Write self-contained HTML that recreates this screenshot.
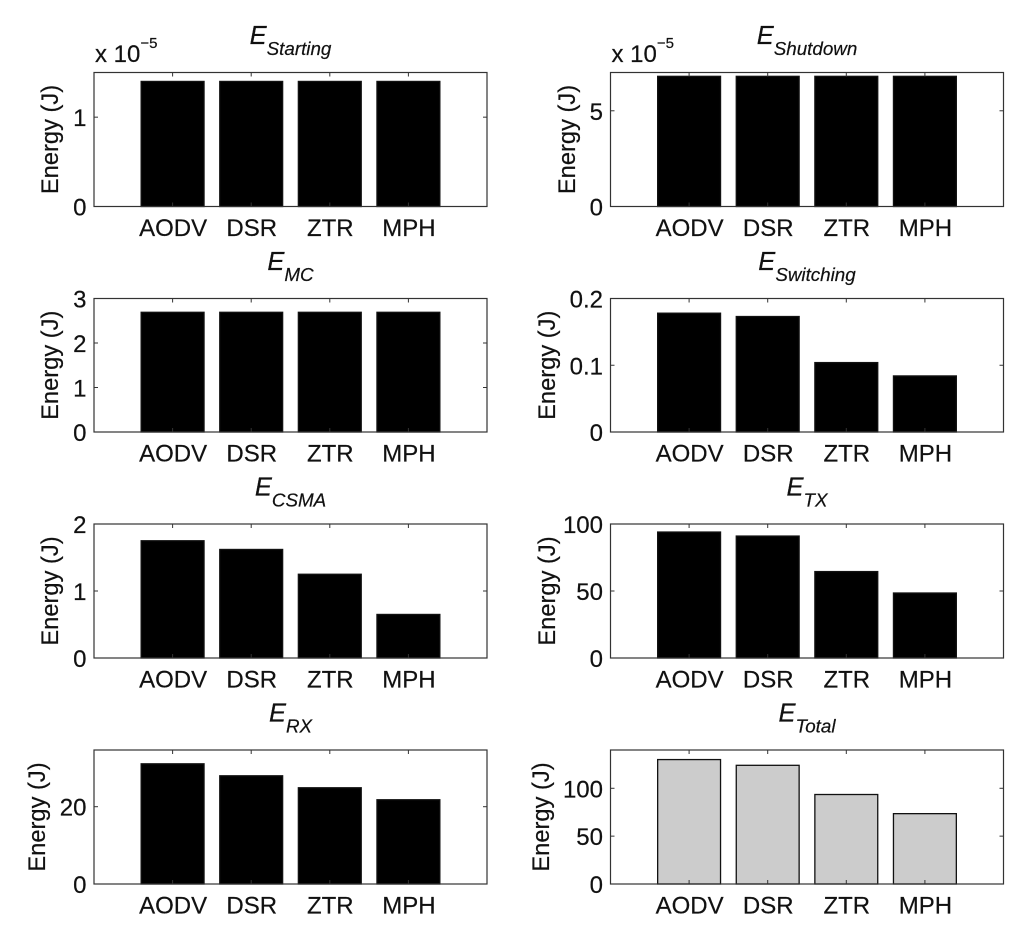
<!DOCTYPE html>
<html lang="en">
<head>
<meta charset="utf-8">
<title>Energy by routing protocol</title>
<style>
html,body{margin:0;padding:0;background:#fff;}
svg{display:block;filter:blur(0.35px);}
text{font-family:"Liberation Sans",sans-serif;fill:#111;stroke:#111;stroke-width:0.2px;}
</style>
</head>
<body>
<svg id="figure" xmlns="http://www.w3.org/2000/svg" width="1024" height="931" viewBox="0 0 1024 931"></svg>
<script>
const categories = ['AODV', 'DSR', 'ZTR', 'MPH'];

const startingValues = [1.4e-5, 1.4e-5, 1.4e-5, 1.4e-5];
const shutdownValues = [6.8e-5, 6.8e-5, 6.8e-5, 6.8e-5];
const mcValues = [2.69, 2.69, 2.69, 2.69];
const switchingValues = [0.178, 0.173, 0.104, 0.084];
const csmaValues = [1.75, 1.62, 1.25, 0.65];
const txValues = [94, 91, 64.5, 48.5];
const rxValues = [31.1, 28, 24.9, 21.8];
const totalValues = [130, 124, 93.5, 73.5];

const startingTicks = [0, 1e-5];
const startingTickLabels = ['0', '1'];
const shutdownTicks = [0, 5e-5];
const shutdownTickLabels = ['0', '5'];
const mcTicks = [0, 1, 2, 3];
const mcTickLabels = ['0', '1', '2', '3'];
const switchingTicks = [0, 0.1, 0.2];
const switchingTickLabels = ['0', '0.1', '0.2'];
const csmaTicks = [0, 1, 2];
const csmaTickLabels = ['0', '1', '2'];
const txTicks = [0, 50, 100];
const txTickLabels = ['0', '50', '100'];
const rxTicks = [0, 20];
const rxTickLabels = ['0', '20'];
const totalTicks = [0, 50, 100];
const totalTickLabels = ['0', '50', '100'];

const svg = document.getElementById('figure');
const NS = 'http://www.w3.org/2000/svg';

function make(tag, attrs, parent) {
  const el = document.createElementNS(NS, tag);
  for (const k in attrs) el.setAttribute(k, attrs[k]);
  parent.appendChild(el);
  return el;
}

function drawPanel(p) {
  const w = 393, h = p.bottom - p.top;
  const xScale = v => p.left + (v / 5) * w;
  const yScale = v => p.bottom - (v / p.yMax) * h;

  const g = make('g', {}, svg);
  
  

  // bars
  p.values.forEach((v, i) => {
    const x0 = xScale(i + 1 - 0.4), x1 = xScale(i + 1 + 0.4), y = yScale(v);
    const bar = make('rect', {x: x0, y: y, width: x1 - x0, height: p.bottom - y,
      fill: p.fill, stroke: '#111', 'stroke-width': 1.3}, g);
    
    
  });

  // axes box
  const box = make('rect', {x: p.left, y: p.top, width: w, height: h, fill: 'none',
    stroke: '#333', 'stroke-width': 1.2}, g);
  
  

  // x ticks & labels
  categories.forEach((c, i) => {
    const x = xScale(i + 1);
    make('line', {x1: x, x2: x, y1: p.top, y2: p.top + 4, stroke: '#333', 'stroke-width': 1}, g);
    make('line', {x1: x, x2: x, y1: p.bottom, y2: p.bottom - 4, stroke: '#333', 'stroke-width': 1}, g);
    const t = make('text', {x: x + 0.5, y: p.bottom + 29.5, 'text-anchor': 'middle', 'font-size': 24}, g);
    t.textContent = c;
    
    
  });

  // y ticks & labels
  p.ticks.forEach((v, i) => {
    const y = yScale(v);
    make('line', {x1: p.left, x2: p.left + 4, y1: y, y2: y, stroke: '#333', 'stroke-width': 1}, g);
    make('line', {x1: p.left + w, x2: p.left + w - 4, y1: y, y2: y, stroke: '#333', 'stroke-width': 1}, g);
    const t = make('text', {x: p.left - 7.5, y: y + 9, 'text-anchor': 'end', 'font-size': 24}, g);
    t.textContent = p.tickLabels[i];
    
    
  });

  // y-axis title
  const cy = (p.top + p.bottom) / 2;
  const yl = make('text', {x: 0, y: 0, 'text-anchor': 'middle', 'font-size': 23.7,
    transform: 'translate(' + p.yTitleX + ',' + cy + ') rotate(-90)'}, g);
  yl.textContent = 'Energy (J)';
  
  

  // title
  const title = make('text', {x: p.left + w / 2, y: p.top - 28.5, 'text-anchor': 'middle',
    'font-style': 'italic', 'font-size': 25.5}, g);
  
  
  const main = make('tspan', {}, title);
  main.textContent = 'E';
  const sub = make('tspan', {dy: 11, 'font-size': 18.8}, title);
  sub.textContent = p.subscript;

  // exponent
  if (p.exponent) {
    const ex = make('text', {x: p.left + 1, y: p.top - 10.5, 'font-size': 24}, g);
    
    
    const a = make('tspan', {}, ex);
    a.textContent = 'x 10';
    const b = make('tspan', {dy: -14, 'font-size': 15}, ex);
    b.textContent = p.exponent;
  }
}

const LEFT = 94, RIGHT = 610.5;

drawPanel({name: 'starting', left: LEFT, top: 72.5, bottom: 206.5, yMax: 1.5e-5, values: startingValues,
  ticks: startingTicks, tickLabels: startingTickLabels, subscript: 'Starting', fill: '#000', yTitleX: 58, exponent: '\u22125'});
drawPanel({name: 'shutdown', left: RIGHT, top: 72.5, bottom: 206.5, yMax: 7e-5, values: shutdownValues,
  ticks: shutdownTicks, tickLabels: shutdownTickLabels, subscript: 'Shutdown', fill: '#000', yTitleX: 575, exponent: '\u22125'});
drawPanel({name: 'mc', left: LEFT, top: 298.5, bottom: 432, yMax: 3, values: mcValues,
  ticks: mcTicks, tickLabels: mcTickLabels, subscript: 'MC', fill: '#000', yTitleX: 58});
drawPanel({name: 'switching', left: RIGHT, top: 298.5, bottom: 432, yMax: 0.2, values: switchingValues,
  ticks: switchingTicks, tickLabels: switchingTickLabels, subscript: 'Switching', fill: '#000', yTitleX: 555});
drawPanel({name: 'csma', left: LEFT, top: 524, bottom: 658, yMax: 2, values: csmaValues,
  ticks: csmaTicks, tickLabels: csmaTickLabels, subscript: 'CSMA', fill: '#000', yTitleX: 58});
drawPanel({name: 'tx', left: RIGHT, top: 524, bottom: 658, yMax: 100, values: txValues,
  ticks: txTicks, tickLabels: txTickLabels, subscript: 'TX', fill: '#000', yTitleX: 555});
drawPanel({name: 'rx', left: LEFT, top: 750, bottom: 884, yMax: 34.67, values: rxValues,
  ticks: rxTicks, tickLabels: rxTickLabels, subscript: 'RX', fill: '#000', yTitleX: 45});
drawPanel({name: 'total', left: RIGHT, top: 750, bottom: 884, yMax: 140, values: totalValues,
  ticks: totalTicks, tickLabels: totalTickLabels, subscript: 'Total', fill: '#ccc', yTitleX: 549});
</script>
</body>
</html>
